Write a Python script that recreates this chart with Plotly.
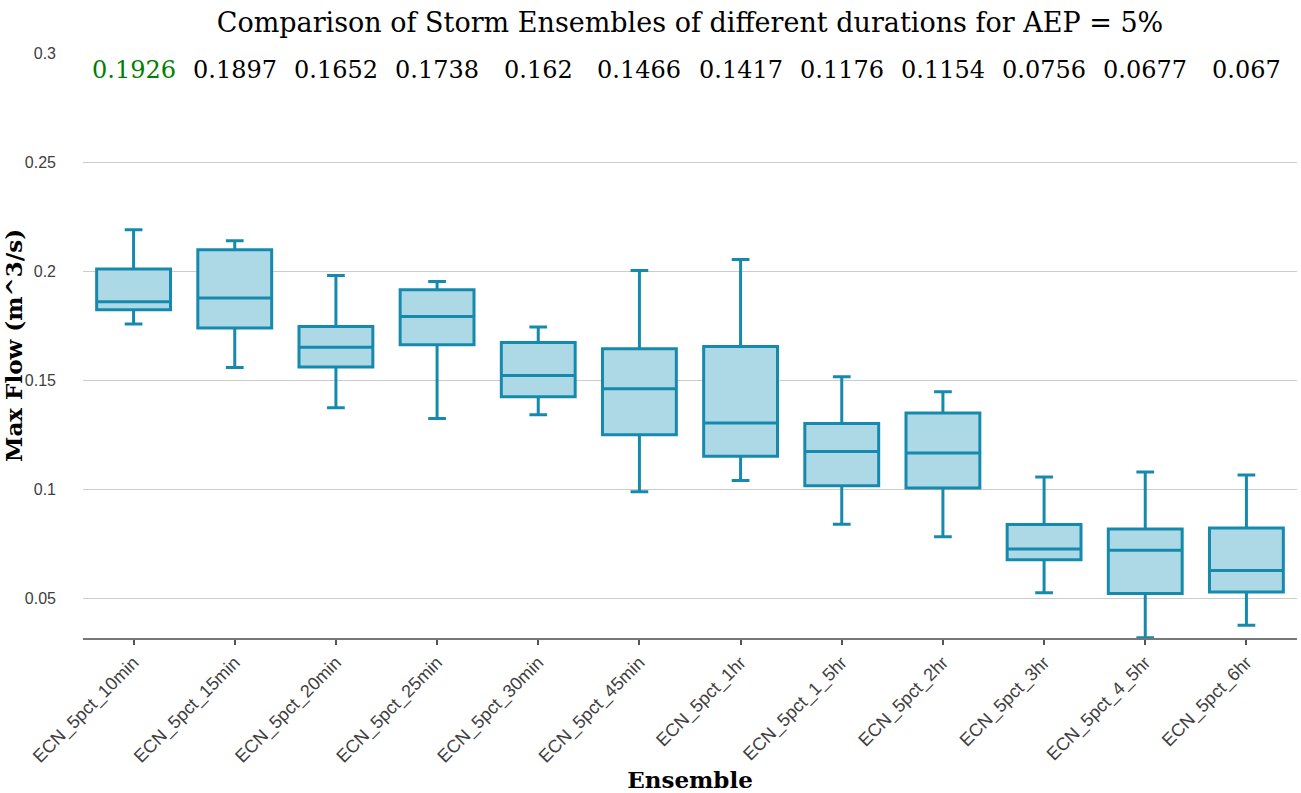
import plotly.graph_objects as go

# Storm ensembles (5% AEP) and their max-flow distributions (m^3/s)
ensembles = [
    "ECN_5pct_10min", "ECN_5pct_15min", "ECN_5pct_20min", "ECN_5pct_25min",
    "ECN_5pct_30min", "ECN_5pct_45min", "ECN_5pct_1hr", "ECN_5pct_1_5hr",
    "ECN_5pct_2hr", "ECN_5pct_3hr", "ECN_5pct_4_5hr", "ECN_5pct_6hr",
]
lower_whisker = [0.1757, 0.1558, 0.1373, 0.1324, 0.1341, 0.0988,
                 0.1039, 0.0839, 0.0781, 0.0524, 0.0318, 0.0376]
q1_values = [0.1822, 0.1739, 0.1560, 0.1662, 0.1423, 0.1249,
             0.1150, 0.1015, 0.1005, 0.0676, 0.0521, 0.0528]
median_values = [0.1859, 0.1876, 0.1651, 0.1792, 0.1521, 0.1460,
                 0.1303, 0.1172, 0.1165, 0.0725, 0.0720, 0.0627]
q3_values = [0.2009, 0.2098, 0.1746, 0.1914, 0.1672, 0.1644,
             0.1654, 0.1301, 0.1349, 0.0838, 0.0817, 0.0821]
upper_whisker = [0.2189, 0.2139, 0.1980, 0.1952, 0.1743, 0.2003,
                 0.2053, 0.1515, 0.1446, 0.1055, 0.1078, 0.1064]
mean_values = [0.1926, 0.1897, 0.1652, 0.1738, 0.162, 0.1466,
               0.1417, 0.1176, 0.1154, 0.0756, 0.0677, 0.067]

y_ticks = [0.05, 0.1, 0.15, 0.2, 0.25, 0.3]
y_tick_labels = ["0.05", "0.1", "0.15", "0.2", "0.25", "0.3"]

SERIF = "DejaVu Serif"
SANS = "Liberation Sans"

fig = go.Figure()
fig.add_trace(go.Box(
    x=ensembles,
    q1=q1_values,
    median=median_values,
    q3=q3_values,
    lowerfence=lower_whisker,
    upperfence=upper_whisker,
    fillcolor="#add8e6",
    line=dict(color="#168aad", width=3),
    whiskerwidth=0.24,
    showlegend=False,
    hoverinfo="y",
))

# Mean of each ensemble written along the top; the largest in green
best = max(mean_values)
for name, m in zip(ensembles, mean_values):
    fig.add_annotation(
        x=name, y=0.2923, xref="x", yref="y",
        text=f"{m:g}", showarrow=False,
        font=dict(family=SERIF, size=24,
                  color="green" if m == best else "black"),
        yanchor="middle",
    )

fig.update_layout(
    width=1301, height=793,
    margin=dict(l=83, r=4, t=53, b=155),
    paper_bgcolor="white", plot_bgcolor="white",
    boxgap=0.27, boxgroupgap=0,
    title=dict(
        text="Comparison of Storm Ensembles of different durations for AEP = 5%",
        font=dict(family=SERIF, size=27, color="black"),
        x=0.5, xref="paper", xanchor="center",
        y=0.972, yref="container", yanchor="middle",
    ),
    xaxis=dict(
        title=dict(text="<b>Ensemble</b>", font=dict(family=SERIF, size=23, color="black"),
                   standoff=0),
        tickangle=-45,
        tickfont=dict(family=SANS, size=18, color="#404040"),
        showline=True, linecolor="#777", linewidth=2,
        ticks="outside", ticklen=5, tickcolor="#555", tickwidth=1.5,
        showgrid=False,
    ),
    yaxis=dict(
        title=dict(text="<b>Max Flow (m^3/s)</b>", font=dict(family=SERIF, size=23, color="black"),
                   standoff=3),
        range=[0.0317, 0.3],
        tickmode="array",
        tickvals=y_ticks, ticktext=y_tick_labels,
        tickfont=dict(family=SANS, size=16, color="#404040"),
        showgrid=True, gridcolor="#cccccc", gridwidth=1,
        zeroline=False, showline=False,
        ticks="", ticklabelstandoff=26,
    ),
)

fig.write_html("out.html")
